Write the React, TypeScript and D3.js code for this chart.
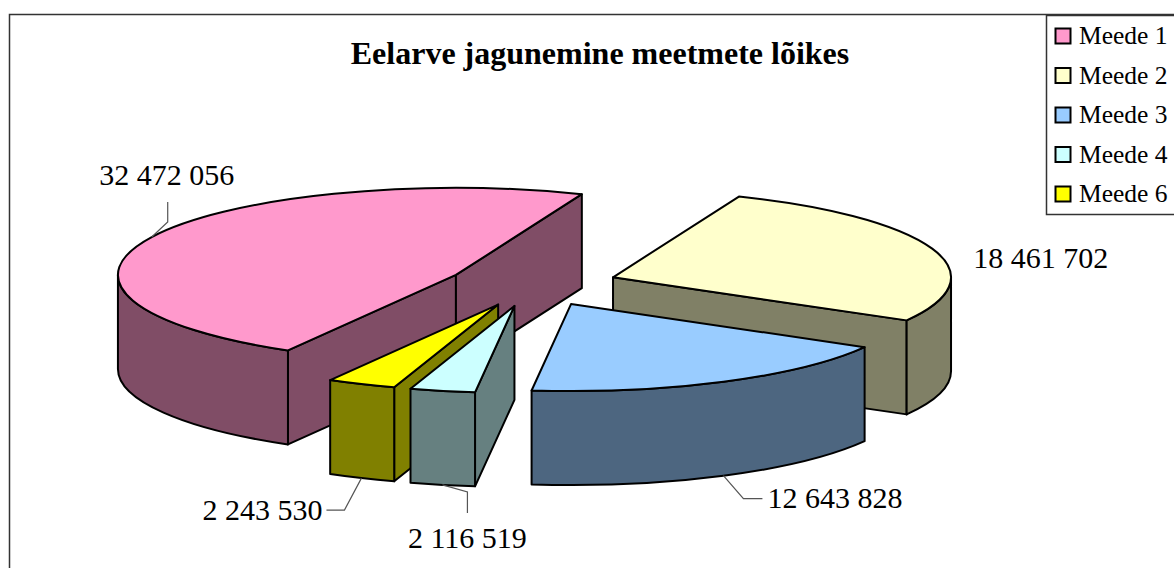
import * as d3 from "d3";

// data
const categories = ["Meede 1", "Meede 2", "Meede 3", "Meede 4", "Meede 6"];
const values = [32472056, 18461702, 12643828, 2116519, 2243530];
const topColors = ["#FF99CC", "#FFFFCC", "#99CCFF", "#CCFFFF", "#FFFF00"];
const sideColors = ["#804D66", "#808066", "#4D6680", "#668080", "#808000"];

// label placement relative to the slice anchor (edge point at mid angle)
// anchor: "top" or "bottom" rim, leader: offsets of the bends, text: offset + anchor
const labelLayout = [
  { anchor: "top", leader: [[16, -15], [16, -35]], text: [15, -52], align: "middle" },
  { anchor: "top", leader: [], text: [41, 19], align: "start" },
  { anchor: "bottom", leader: [[20, 23], [39, 23]], text: [44, 32], align: "start" },
  { anchor: "bottom", leader: [[25, 7], [25, 28]], text: [25, 63], align: "middle" },
  { anchor: "bottom", leader: [[-17, 32], [-35, 32]], text: [-39, 42], align: "end" },
];

const width = 1174;
const height = 568;

// 3d pie geometry
const cx = 532.6;
const cy = 284.5;
const rx = 338;
const ry = 87;
const depth = 94;
const explode = 0.252;
const firstSliceDeg = 119.8; // from 3 o'clock, clockwise

const fmt = d3.formatLocale({ decimal: ",", thousands: " ", grouping: [3], currency: ["", ""] }).format(",d");

const pie = d3
  .pie<number>()
  .sort(null)
  .startAngle(((firstSliceDeg + 90) * Math.PI) / 180)
  .endAngle(((firstSliceDeg + 90) * Math.PI) / 180 + 2 * Math.PI);

const arcs = pie(values);

function pt(ox: number, oy: number, t: number, dz = 0): [number, number] {
  return [ox + rx * Math.cos(t), oy + ry * Math.sin(t) + dz];
}

function arcTo(p: [number, number], span: number, sweep: number) {
  return `A${rx},${ry} 0 ${Math.abs(span) > Math.PI ? 1 : 0} ${sweep} ${p[0]},${p[1]}`;
}

const slices = arcs.map((a, i) => {
  const t0 = a.startAngle - Math.PI / 2;
  const t1 = a.endAngle - Math.PI / 2;
  const mid = (t0 + t1) / 2;
  const ox = cx + explode * rx * Math.cos(mid);
  const oy = cy + explode * ry * Math.sin(mid);
  const faces: { d: string; fill: string }[] = [];

  const quad = (t: number) => {
    const p = pt(ox, oy, t);
    const pb = pt(ox, oy, t, depth);
    return `M${ox},${oy}L${p[0]},${p[1]}L${pb[0]},${pb[1]}L${ox},${oy + depth}Z`;
  };
  // cut faces, only those turned to the viewer
  if (Math.cos(t0) < 0) faces.push({ d: quad(t0), fill: sideColors[i] });
  if (Math.cos(t1) > 0) faces.push({ d: quad(t1), fill: sideColors[i] });

  // outer rim, front half only
  const twoPi = 2 * Math.PI;
  const n0 = ((t0 % twoPi) + twoPi) % twoPi;
  const n1 = n0 + (t1 - t0);
  [[0, Math.PI], [twoPi, 3 * Math.PI]].forEach(([lo, hi]) => {
    const b0 = Math.max(n0, lo);
    const b1 = Math.min(n1, hi);
    if (b1 - b0 > 1e-4) {
      const p0 = pt(ox, oy, b0);
      const p1 = pt(ox, oy, b1);
      const q1 = pt(ox, oy, b1, depth);
      const q0 = pt(ox, oy, b0, depth);
      faces.push({
        d: `M${p0[0]},${p0[1]}${arcTo(p1, b1 - b0, 1)}L${q1[0]},${q1[1]}${arcTo(q0, b1 - b0, 0)}Z`,
        fill: sideColors[i],
      });
    }
  });

  // top
  const s = pt(ox, oy, t0);
  const e = pt(ox, oy, t1);
  faces.push({ d: `M${ox},${oy}L${s[0]},${s[1]}${arcTo(e, t1 - t0, 1)}Z`, fill: topColors[i] });

  const lay = labelLayout[i];
  const anchor = pt(ox, oy, mid, lay.anchor === "bottom" ? depth : 0);
  return { i, mid, faces, anchor, lay };
});

// back to front
const drawOrder = [...slices].sort((a, b) => Math.sin(a.mid) - Math.sin(b.mid));

const legendY = d3.scalePoint<string>().domain(categories).range([36, 194]);

export default function App() {
  return (
    <svg
      width={width}
      height={height}
      style={{ position: "fixed", left: 0, top: 0, background: "#fff" }}
      fontFamily="'Liberation Serif', 'Times New Roman', serif"
    >
      <rect x={9.5} y={14.5} width={1300} height={700} fill="#fff" stroke="#333" strokeWidth={1.5} />

      <text x={600} y={64} textAnchor="middle" fontWeight="bold" fontSize={32}>
        Eelarve jagunemine meetmete lõikes
      </text>

      {drawOrder.map((s) => (
        <g key={s.i}>
          {s.faces.map((f, k) => (
            <path key={k} d={f.d} fill={f.fill} stroke="#000" strokeWidth={2} strokeLinejoin="round" />
          ))}
        </g>
      ))}

      {slices.map((s) => {
        const [ax, ay] = s.anchor;
        const pts = [[ax, ay], ...s.lay.leader.map(([dx, dy]) => [ax + dx, ay + dy])];
        return (
          <g key={"l" + s.i}>
            {pts.length > 1 && (
              <path d={d3.line()(pts as [number, number][]) || ""} fill="none" stroke="#555" strokeWidth={1.2} />
            )}
            <text
              x={ax + s.lay.text[0]}
              y={ay + s.lay.text[1]}
              textAnchor={s.lay.align}
              fontSize={30}
              fill="#000"
            >
              {fmt(values[s.i])}
            </text>
          </g>
        );
      })}

      <g>
        <rect x={1046.5} y={15.5} width={200} height={199} fill="#fff" stroke="#333" strokeWidth={1.5} />
        {categories.map((c, i) => (
          <g key={c} transform={`translate(0,${legendY(c)})`}>
            <rect x={1055.5} y={-7.5} width={15} height={15} fill={topColors[i]} stroke="#000" strokeWidth={2} />
            <text x={1079} y={8} fontSize={25.5}>
              {c}
            </text>
          </g>
        ))}
      </g>
    </svg>
  );
}
